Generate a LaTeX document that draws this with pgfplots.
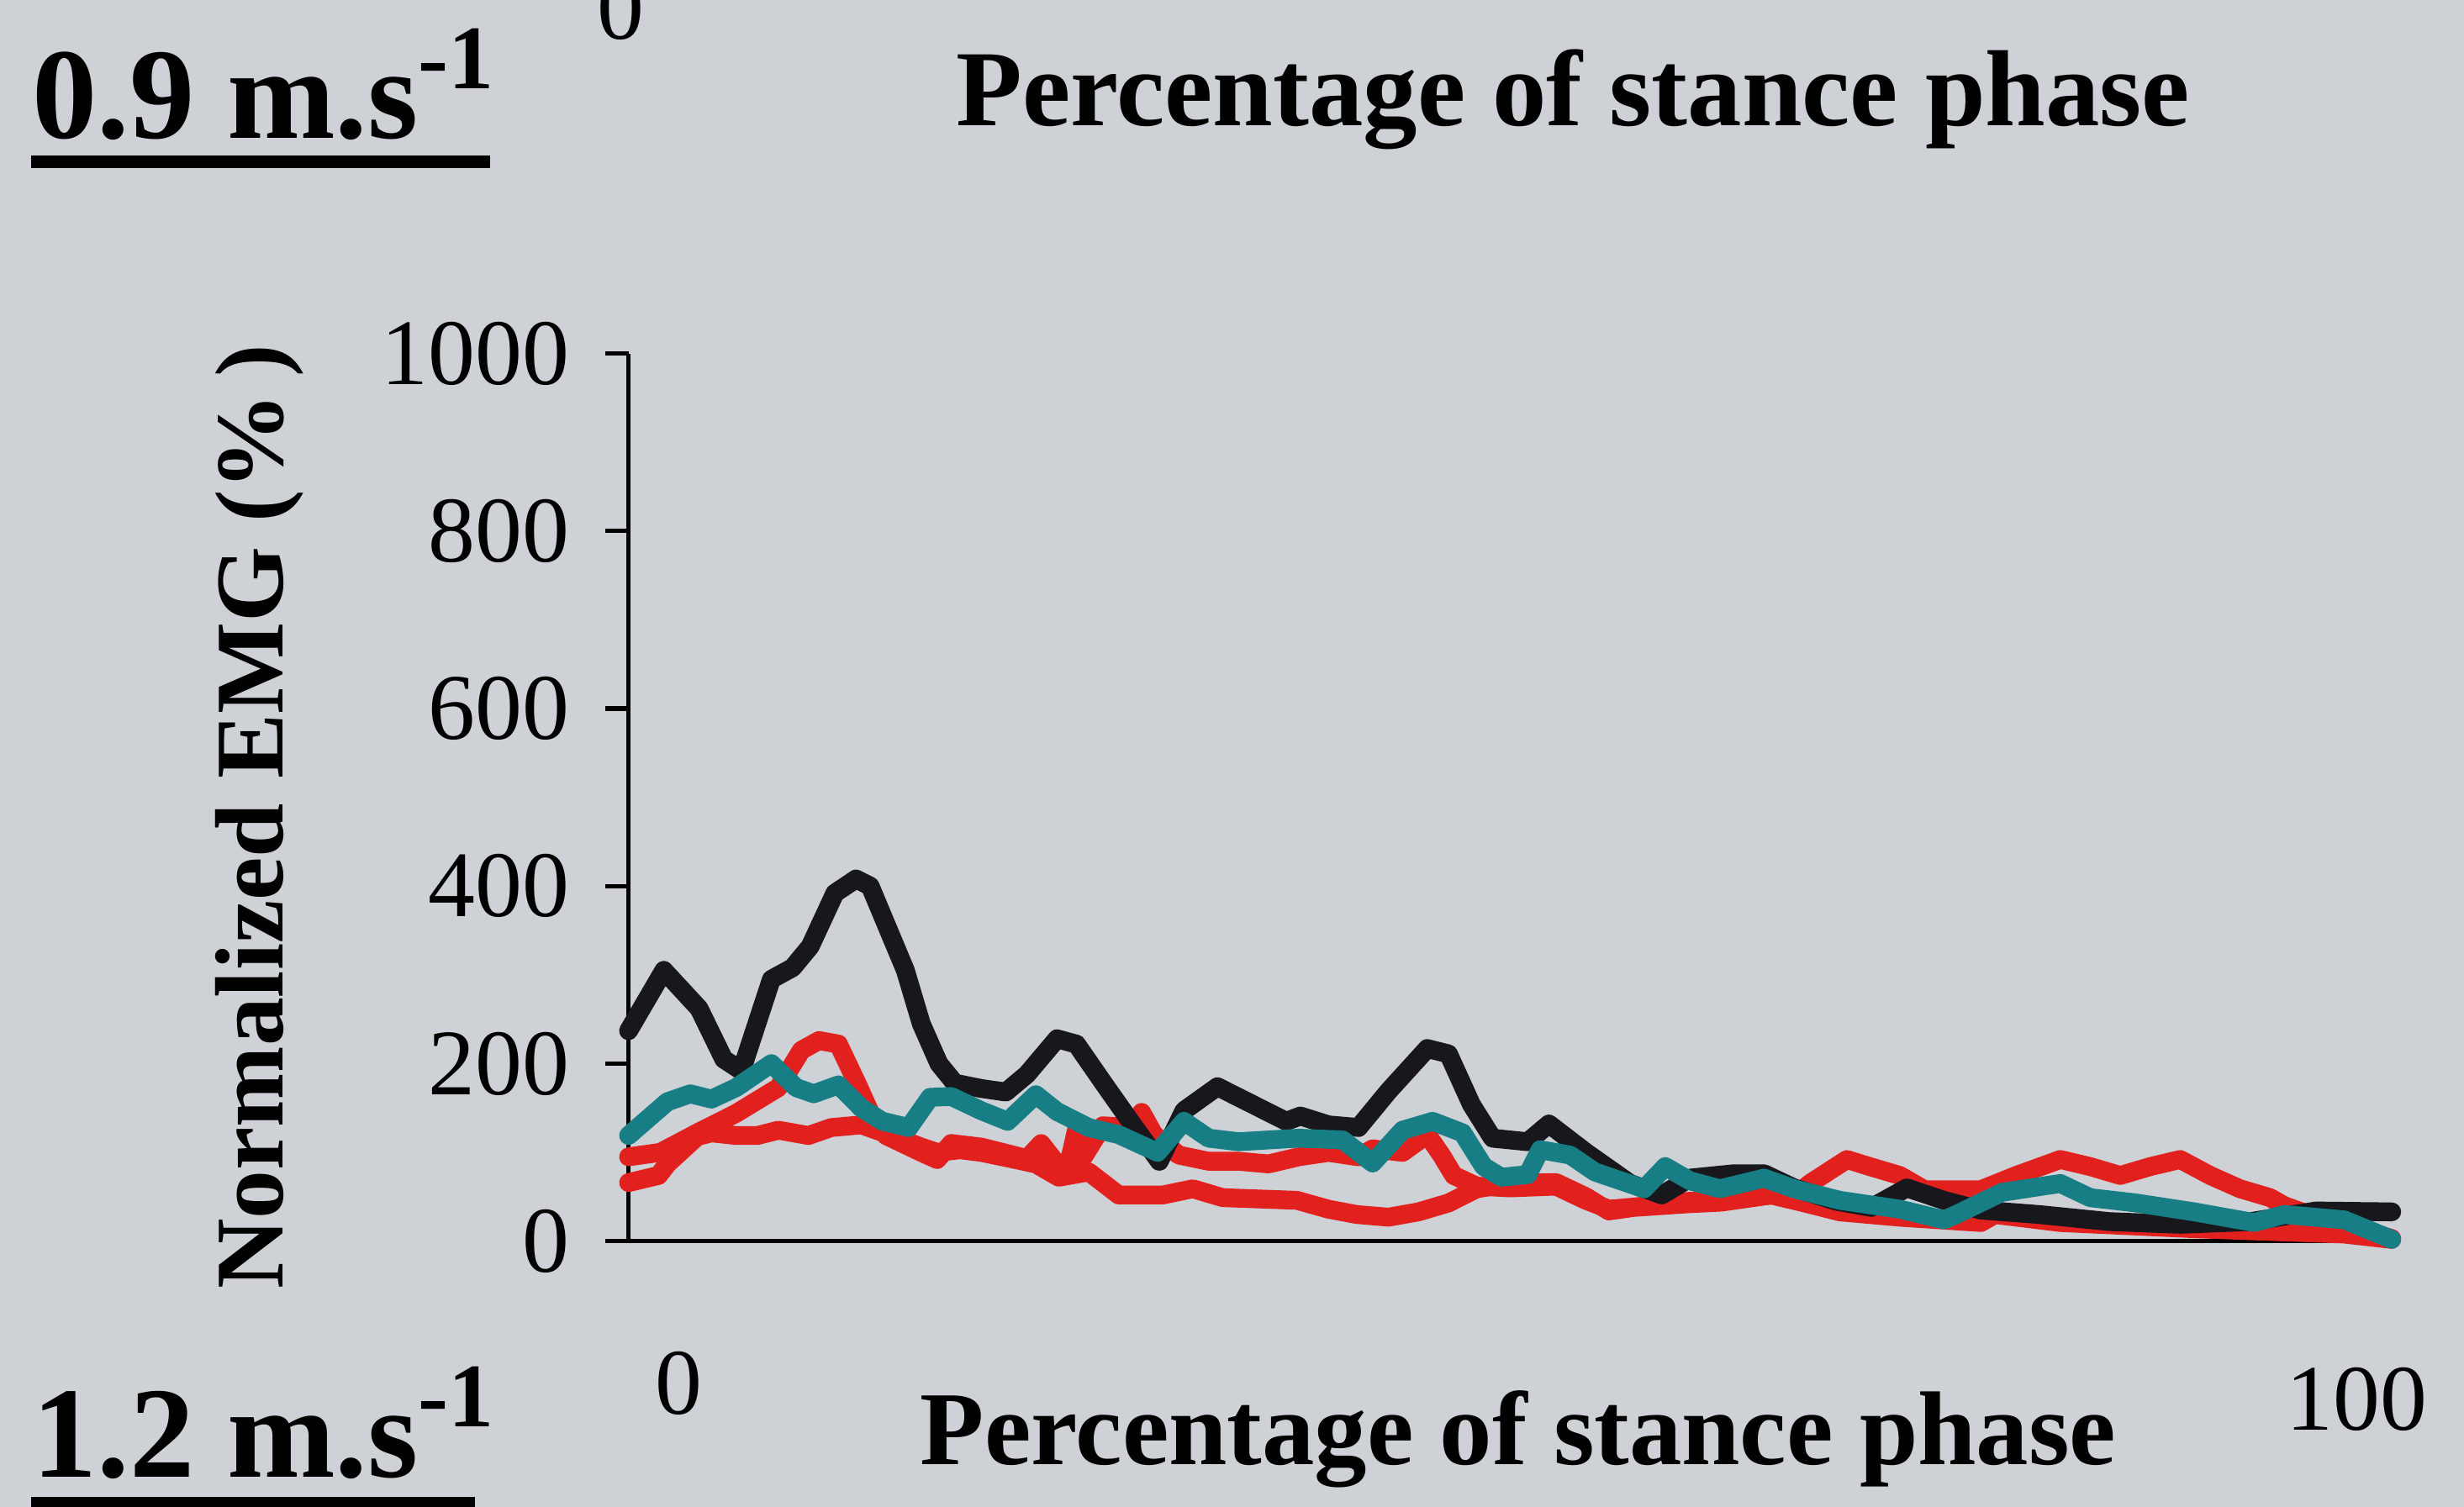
\documentclass[border=0pt]{standalone}
\usepackage{fontspec}
\setmainfont{Liberation Serif}
\usepackage{pgfplots}
\pgfplotsset{compat=1.18}
\definecolor{bg}{RGB}{206,209,214}
\definecolor{ered}{RGB}{226,32,30}
\definecolor{eteal}{RGB}{22,126,132}
\definecolor{eblack}{RGB}{24,24,28}
\begin{document}
\begin{tikzpicture}
\clip (0,0) rectangle (15.68,9.59);
\fill[bg] (0,0) rectangle (15.68,9.59);
\begin{axis}[
  at={(4.00cm,1.69cm)}, anchor=south west,
  width=11.22cm, height=5.65cm, scale only axis,
  xmin=0, xmax=100, ymin=0, ymax=1000,
  axis lines=left,
  axis line style={-, line width=0.8pt, black},
  x axis line style={shorten <=-0.15cm},
  tick align=outside, major tick length=0.15cm,
  ytick={0,200,400,600,800,1000},
  yticklabels={0,200,400,600,800,1000},
  ytick style={line width=0.8pt, black},
  xtick={2.85,98}, xticklabels={0,\raisebox{-0.1cm}{100}},
  xtick style={draw=none},
  tick label style={font=\fontsize{17}{20}\selectfont},
  /pgf/number format/assume math mode=true,
  yticklabel style={anchor=east, inner sep=0pt, xshift=-0.22cm},
  xticklabel style={anchor=base, inner sep=0pt, yshift=-0.95cm},
  ylabel={Normalized EMG (\%\,)},
  ylabel style={at={(axis description cs:-0.2094,0.478)}, anchor=center, font=\bfseries\fontsize{17.6}{21}\selectfont},
  clip=false,
  every axis plot/.append style={line width=3.4pt, line join=round, line cap=round},
]
% red series 1 (upper / peak)
\addplot[ered] coordinates {
(0,95) (1.8,100) (3.9,122) (6.1,144) (8.5,173) (9.8,215) (10.8,226) (11.9,222)
(13.0,176) (13.7,145) (14.6,119) (16.6,100) (17.5,92) (18.3,110) (20.0,106)
(22.6,93) (23.4,110) (24.3,87) (25.0,90) (25.4,125) (25.8,95) (26.9,130)
(28.5,128) (29.1,145) (29.8,120) (31.2,97) (32.9,90) (34.6,90) (36.3,87)
(38.0,95) (39.7,100) (41.4,95) (42.2,104) (43.9,100) (45.3,120) (46.1,97)
(46.8,74) (48.1,62) (50.0,60) (52.6,62) (54.3,46) (55.6,36) (56.8,38)
(60.2,45) (61.9,45) (64.8,52) (66.2,52) (67.0,65) (69.1,92) (70.4,84)
(72.1,74) (73.5,58) (76.7,58) (78.7,74) (81.2,92) (82.9,84) (84.6,74)
(86.3,84) (88.0,92) (89.7,74) (91.4,59) (93.1,49) (93.9,40) (96.0,25) (100,3)
};
% red series 2 (lower)
\addplot[ered] coordinates {
(0,66) (1.7,74) (2.2,87) (3.9,118) (4.7,122) (6.1,119) (7.3,119) (8.5,125)
(10.2,119) (11.5,128) (13.2,131) (14.9,119) (16.6,106) (17.5,100) (18.8,103)
(20.0,100) (21.7,93) (23.1,87) (24.4,72) (26.1,78) (27.8,52) (30.3,52)
(32.0,59) (33.7,49) (37.9,46) (39.7,36) (41.3,30) (43.1,27) (44.8,33)
(46.5,43) (48.1,59) (50.0,65) (52.6,66) (54.3,50) (55.6,34) (57.0,38)
(60.0,42) (62.0,44) (64.8,52) (66.5,44) (68.7,33) (72.1,27) (76.7,21)
(77.5,30) (81.2,21) (88.8,14) (97.3,8) (100,2)
};
% black series
\addplot[eblack] coordinates {
(0,237) (2,305) (4,262) (5.4,205) (6.4,192) (8.1,295) (9.3,308) (10.3,332)
(11.7,392) (12.9,408) (13.7,400) (15.7,305) (16.6,245) (17.6,200) (18.5,178)
(20.0,172) (21.4,168) (22.6,188) (24.3,228) (25.4,222) (26.9,179) (28.6,131)
(30.1,90) (31.5,147) (33.4,174) (35.4,154) (37.3,135) (38.1,141) (39.7,131)
(41.4,128) (43.1,169) (45.3,217) (46.5,211) (47.8,154) (49.0,116) (51.0,112)
(52.2,132) (54.3,100) (56.8,65) (58.6,52) (60.2,71) (62.7,76) (64.4,76)
(66.1,60) (68.5,45) (70.5,38) (72.5,60) (74.6,46) (76.7,35) (80,30) (84,22)
(88,19) (92,22) (95.7,34) (100,33)
};
% teal series
\addplot[eteal] coordinates {
(0,119) (2.2,157) (3.5,166) (4.7,160) (6.1,173) (8.1,200) (9.5,173) (10.5,166)
(11.9,176) (13.2,150) (14.4,135) (15.9,128) (17.1,162) (18.3,163) (20.0,147)
(21.5,135) (23.1,165) (24.3,146) (26.1,128) (27.8,120) (30.0,100) (31.5,135)
(32.9,116) (34.6,112) (38.0,116) (40.5,114) (42.2,88) (43.9,125) (45.6,135)
(47.3,122) (48.5,84) (49.5,72) (51.0,75) (51.7,103) (53.4,97) (54.8,78)
(57.6,59) (58.8,84) (60.2,68) (61.9,59) (64.4,71) (66.1,59) (68.7,46)
(72.1,36) (74.6,24) (75.3,30) (77.9,55) (81.2,65) (82.9,49) (85.5,43)
(88.8,33) (92.2,21) (93.9,30) (97.3,24) (100,2)
};
\end{axis}
% surrounding slide text
\node[anchor=base, inner sep=0pt, font=\fontsize{17}{20}\selectfont] at (3.95,9.34) {0};
\node[anchor=base west, inner sep=0pt, font=\bfseries\fontsize{19.6}{23}\selectfont] at (6.08,8.79) {Percentage of stance phase};
\node[anchor=base west, inner sep=0pt, font=\bfseries\fontsize{23.5}{28}\selectfont] at (0.20,8.71) {0.9 m.s\textsuperscript{-1}};
\draw[line width=0.08cm] (0.20,8.56) -- (3.12,8.56);
\node[anchor=base west, inner sep=0pt, font=\bfseries\fontsize{19}{22}\selectfont] at (5.85,0.27) {Percentage of stance phase};
\node[anchor=base west, inner sep=0pt, font=\bfseries\fontsize{23.5}{28}\selectfont] at (0.20,0.19) {1.2 m.s\textsuperscript{-1}};
\draw[line width=0.08cm] (0.20,0.02) -- (3.02,0.02);
\end{tikzpicture}
\end{document}
